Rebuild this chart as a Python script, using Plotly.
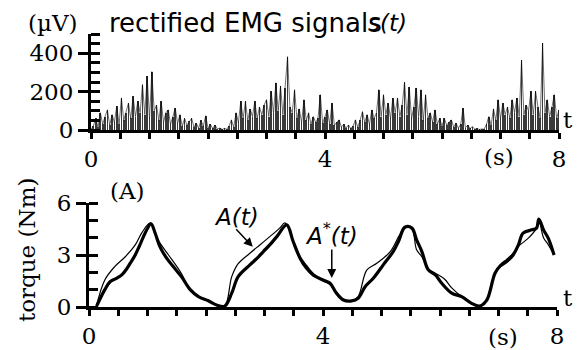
import plotly.graph_objects as go

# ---- data ----
emg_dt = 0.04
emg_values = [
    5, 20, 60, 15, 90, 30, 70, 105, 25, 80, 40, 123, 30, 167, 50, 90, 140, 60, 175, 70, 150, 90, 237, 80, 281,
    60, 304, 100, 130, 50, 149, 40, 90, 105, 30, 70, 114, 35, 80, 20, 60, 25, 45, 61, 15, 35, 10, 50, 20, 74,
    10, 30, 8, 26, 5, 10, 3, 8, 4, 20, 53, 15, 90, 40, 149, 60, 149, 50, 110, 70, 149, 60, 120, 80, 130,
    158, 70, 201, 90, 246, 100, 229, 80, 219, 382, 120, 90, 210, 60, 110, 40, 158, 50, 90, 30, 70, 40, 60, 184, 35,
    70, 105, 30, 140, 25, 40, 53, 15, 30, 10, 26, 8, 20, 53, 15, 50, 96, 40, 80, 30, 105, 60, 90, 210, 70,
    184, 80, 140, 60, 167, 90, 167, 70, 130, 249, 80, 224, 60, 120, 219, 70, 210, 50, 184, 60, 90, 40, 105, 30, 60,
    20, 61, 25, 40, 53, 15, 35, 10, 30, 114, 12, 25, 8, 18, 4, 6, 3, 5, 4, 30, 70, 25, 110, 50, 158,
    60, 140, 80, 120, 60, 158, 90, 167, 70, 365, 80, 130, 100, 201, 80, 201, 120, 60, 453, 90, 158, 70, 120, 184, 60,
    105,
]
emg_t = [round(i * emg_dt, 2) for i in range(len(emg_values))]

astar_t = [0.13, 0.27, 0.36, 0.47, 0.56, 0.64, 0.70, 0.79, 0.87, 0.96, 1.06, 1.13, 1.21, 1.33, 1.44, 1.58,
           1.73, 1.87, 2.04, 2.18, 2.32, 2.44, 2.55, 2.75, 2.87, 2.98, 3.09, 3.21, 3.38, 3.49, 3.61, 3.72,
           3.83, 4.00, 4.12, 4.23, 4.35, 4.49, 4.60, 4.72, 4.86, 5.03, 5.20, 5.29, 5.40, 5.52, 5.60, 5.69,
           5.80, 5.92, 6.03, 6.20, 6.37, 6.54, 6.68, 6.80, 6.94, 7.03, 7.14, 7.25, 7.34, 7.42, 7.57, 7.65,
           7.69, 7.77, 7.85, 7.95]
astar_v = [0.05, 1.0, 1.46, 1.65, 1.85, 2.18, 2.5, 3.0, 3.58, 4.27, 4.8, 4.27, 3.5, 2.8, 2.33, 1.75,
           1.0, 0.6, 0.36, 0.12, 0.05, 0.8, 1.75, 2.43, 2.8, 3.2, 3.58, 4.06, 4.74, 3.78, 2.8, 2.23,
           1.85, 1.56, 1.37, 0.8, 0.4, 0.35, 0.5, 1.17, 1.66, 2.43, 3.2, 3.78, 4.6, 4.55, 3.87, 3.2,
           2.14, 1.85, 1.37, 0.8, 0.6, 0.21, 0.06, 0.4, 1.95, 2.37, 2.62, 3.0, 3.58, 4.26, 4.45, 4.55,
           5.07, 4.45, 3.97, 3.0]

a_t = [0.13, 0.27, 0.44, 0.62, 0.79, 0.90, 1.05, 1.18, 1.36, 1.56, 1.70, 1.87, 2.04, 2.18, 2.32, 2.44,
       2.55, 2.75, 2.92, 3.09, 3.26, 3.35, 3.49, 3.61, 3.72, 3.83, 4.00, 4.12, 4.23, 4.35, 4.49, 4.60,
       4.75, 4.92, 5.15, 5.30, 5.40, 5.52, 5.60, 5.69, 5.80, 5.92, 6.08, 6.20, 6.37, 6.54, 6.68, 6.80,
       6.94, 7.03, 7.14, 7.25, 7.34, 7.51, 7.65, 7.69, 7.77, 7.85, 7.95]
a_v = [0.1, 1.56, 2.33, 2.9, 3.58, 4.26, 4.85, 3.87, 3.0, 2.04, 1.2, 0.6, 0.36, 0.12, 0.05, 1.75,
       2.5, 3.1, 3.58, 4.06, 4.55, 4.85, 3.85, 2.9, 2.4, 1.95, 1.5, 1.3, 0.85, 0.45, 0.35, 0.6,
       2.14, 2.52, 3.2, 4.1, 4.6, 4.5, 3.3, 2.9, 2.2, 1.95, 1.6, 1.1, 0.6, 0.21, 0.06, 0.45,
       1.95, 2.45, 2.75, 3.1, 3.5, 3.97, 4.55, 5.0, 4.0, 3.6, 3.0]

x_ticks = [i * 0.5 for i in range(17)]
x_ticktext = ["0" if v == 0 else "4" if v == 4 else "8" if v == 8 else "" for v in x_ticks]

# ---- figure ----
serif = "DejaVu Serif"
sans = "DejaVu Sans"
fig = go.Figure()
fig.add_trace(go.Bar(x=emg_t, y=emg_values, width=0.013, marker=dict(color="#3a3a3a", line=dict(width=0)),
                     xaxis="x", yaxis="y", showlegend=False))
fig.add_trace(go.Scatter(x=emg_t, y=emg_values, mode="lines", line=dict(color="rgba(0,0,0,0.8)", width=0.7),
                         xaxis="x", yaxis="y", showlegend=False))
fig.add_trace(go.Scatter(x=a_t, y=a_v, mode="lines", line=dict(color="black", width=1.2, shape="spline"),
                         xaxis="x2", yaxis="y2", showlegend=False))
fig.add_trace(go.Scatter(x=astar_t, y=astar_v, mode="lines", line=dict(color="black", width=3.2, shape="spline"),
                         xaxis="x2", yaxis="y2", showlegend=False))

W, H = 577, 350
ml, mr, mt, mb = 89, 18, 34, 43
pw, ph = W - ml - mr, H - mt - mb

axis_common = dict(showgrid=False, zeroline=False, showline=True, linecolor="black", linewidth=3,
                   automargin=False, tickcolor="black", tickwidth=2.5,
                   tickfont=dict(family=serif, size=23, color="black"))

fig.update_layout(
    width=W, height=H, margin=dict(l=ml, r=mr, t=mt, b=mb),
    paper_bgcolor="white", plot_bgcolor="white", bargap=0,
    xaxis=dict(domain=[2 / pw, 1], range=[0, 8], anchor="y", tickmode="array", tickvals=x_ticks,
               ticktext=x_ticktext, ticks="outside", ticklen=6, **axis_common),
    yaxis=dict(domain=[1 - 96 / ph, 1], range=[0, 500], anchor="x", tickmode="array", tickvals=[0, 200, 400],
               ticks="outside", ticklen=10, minor=dict(ticks="inside", dtick=50, ticklen=9, tickwidth=2.5, tickcolor="black"),
               **axis_common),
    xaxis2=dict(domain=[0, (pw - 2) / pw], range=[0, 8], anchor="y2", tickmode="array", tickvals=x_ticks,
                ticktext=x_ticktext, ticks="outside", ticklen=6, **axis_common),
    yaxis2=dict(domain=[0, 104 / ph], range=[0, 6], anchor="x2", tickmode="array", tickvals=[0, 3, 6],
                ticks="outside", ticklen=10, minor=dict(ticks="inside", dtick=1, ticklen=9, tickwidth=2.5, tickcolor="black"),
                **axis_common),
)

def px(xp, yp, text, size=23, family=serif, xanchor="center", **kw):
    fig.add_annotation(x=(xp - ml) / pw, y=1 - (yp - mt) / ph, xref="paper", yref="paper", text=text,
                       xanchor=xanchor, yanchor="middle", showarrow=False,
                       font=dict(family=family, size=size, color="black"), **kw)

px(53, 23, "(µV)", size=23)
px(107, 23, "rectified EMG signals", size=26, family=sans, xanchor="left")
px(366, 23, "<i>s(t)</i>", size=23, family=sans, xanchor="left")
px(568, 120, "t", size=23)
px(499, 157, "(s)", size=23)
px(127, 191, "(A)", size=23)
px(568, 298, "t", size=23)
px(503, 337, "(s)", size=23)
px(27, 250, "torque (Nm)", size=23, textangle=-90)
px(236, 217, "<i>A(t)</i>", size=23, family=sans)
px(331, 234, "<i>A<sup>*</sup>(t)</i>", size=23, family=sans)

fig.add_annotation(x=2.80, y=3.47, xref="x2", yref="y2", text="", showarrow=True, ax=-18, ay=-19,
                   arrowhead=2, arrowsize=1.2, arrowwidth=1.5, arrowcolor="black")
fig.add_annotation(x=4.15, y=1.68, xref="x2", yref="y2", text="", showarrow=True, ax=0, ay=-30,
                   arrowhead=2, arrowsize=1.2, arrowwidth=1.5, arrowcolor="black")

fig.write_html("out.html", config={"displayModeBar": False},
               post_script="document.body.style.margin='0';document.body.style.overflow='hidden';")
